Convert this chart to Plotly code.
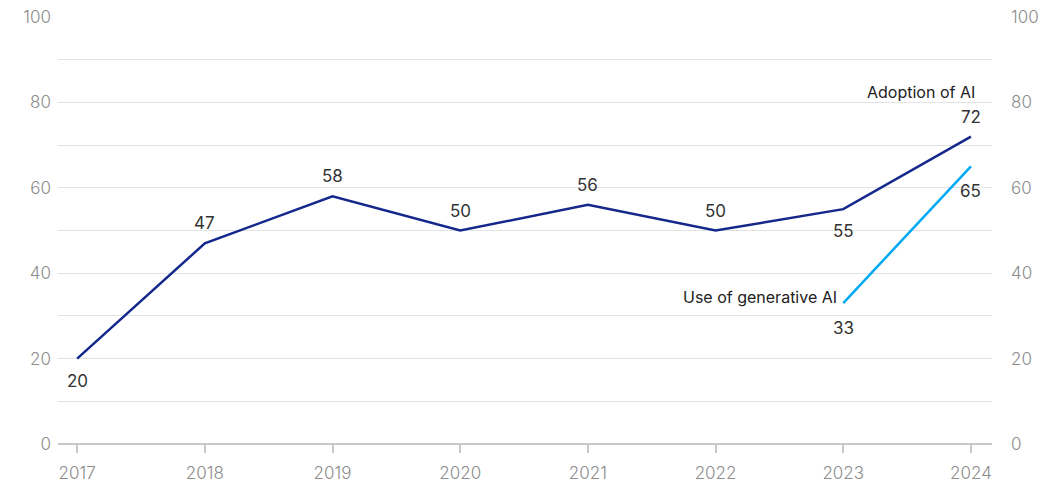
import plotly.graph_objects as go

years = [2017, 2018, 2019, 2020, 2021, 2022, 2023, 2024]
adoption = [20, 47, 58, 50, 56, 50, 55, 72]
gen_years = [2023, 2024]
gen_ai = [33, 65]
adoption_label_pos = ["below", "above", "above", "above", "above", "above", "below", "above"]
gen_label_pos = ["below", "below"]

NAVY = "#14288c"
CYAN = "#00a9f4"
FONT = "Inter"
TICKC = "#8c8c8c"

fig = go.Figure()
fig.add_trace(go.Scatter(x=years, y=adoption, mode="lines",
                         line=dict(color=NAVY, width=2.5), hoverinfo="x+y"))
fig.add_trace(go.Scatter(x=gen_years, y=gen_ai, mode="lines",
                         line=dict(color=CYAN, width=2.5), hoverinfo="x+y"))
# invisible trace to activate right axis
fig.add_trace(go.Scatter(x=[years[0]], y=[0], yaxis="y2", mode="markers",
                         marker=dict(opacity=0), hoverinfo="skip"))

anns = []
for x, y, p in zip(years, adoption, adoption_label_pos):
    anns.append(dict(x=x, y=y, text=str(y), showarrow=False,
                     yshift=20 if p == "above" else -22,
                     font=dict(family=FONT, size=17, color="#333333")))
for x, y, p in zip(gen_years, gen_ai, gen_label_pos):
    anns.append(dict(x=x, y=y, text=str(y), showarrow=False,
                     yshift=20 if p == "above" else -25,
                     font=dict(family=FONT, size=17, color="#333333")))
anns.append(dict(x=years[-1], y=adoption[-1], text="Adoption of AI", showarrow=False,
                 xanchor="right", xshift=6, yshift=45,
                 font=dict(family=FONT, size=16, color="#222222")))
anns.append(dict(x=gen_years[0], y=gen_ai[0], text="Use of generative AI", showarrow=False,
                 xanchor="right", xshift=-4, yshift=6,
                 font=dict(family=FONT, size=16, color="#222222")))

ytv = list(range(0, 101, 10))
ytt = [str(v) if v % 20 == 0 else "" for v in ytv]

fig.update_layout(
    width=1056, height=484,
    margin=dict(l=58, r=64, t=17, b=40, autoexpand=False),
    paper_bgcolor="white", plot_bgcolor="white",
    showlegend=False,
    annotations=anns,
    xaxis=dict(range=[2016.85, 2024.165], tickvals=years, ticks="outside",
               ticklen=8, tickcolor="#c8c8c8", tickwidth=1.5,
               showgrid=False, showline=False, zeroline=False, automargin=False,
               ticklabelstandoff=6,
               tickfont=dict(family=FONT, size=17, color=TICKC, weight=300)),
    yaxis=dict(range=[0, 100], tickvals=ytv, ticktext=ytt, automargin=False,
               showgrid=True, gridcolor="#e3e3e3", gridwidth=1,
               zeroline=True, zerolinecolor="#c8c8c8", zerolinewidth=1.5,
               ticks="", ticklabelstandoff=6,
               tickfont=dict(family=FONT, size=17, color=TICKC, weight=300)),
    yaxis2=dict(range=[0, 100], tickvals=ytv, ticktext=ytt, overlaying="y",
                side="right", showgrid=False, zeroline=False, ticks="",
                ticklabelstandoff=18, automargin=False,
                tickfont=dict(family=FONT, size=17, color=TICKC, weight=300)),
)

fig.write_html("out.html")
